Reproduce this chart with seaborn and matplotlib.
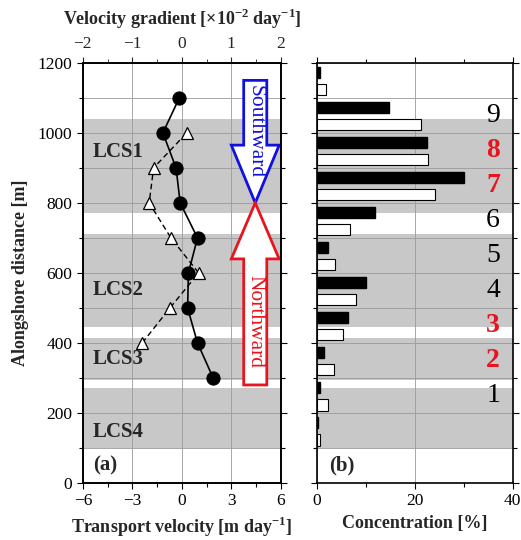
import matplotlib
matplotlib.use('Agg')
import matplotlib.pyplot as plt
import seaborn as sns
from matplotlib.patches import FancyArrow
from matplotlib.ticker import MultipleLocator

# velocidade de transporte (circulos) e gradiente (triangulos)
dist_vel = [1100, 1000, 900, 800, 700, 600, 500, 400, 300]
vel = [-0.15, -1.15, -0.35, -0.1, 0.95, 0.4, 0.35, 0.95, 1.9]
dist_grad = [1000, 900, 800, 700, 600, 500, 400]
grad = [0.1, -0.57, -0.66, -0.22, 0.34, -0.24, -0.8]

# faixas LCS
lcs_nomes = ['LCS1', 'LCS2', 'LCS3', 'LCS4']
lcs_inicio = [770, 445, 295, 100]
lcs_fim = [1040, 710, 415, 270]
lcs_texto_y = [945, 550, 355, 145]

# concentracao por classe de 100 m (limite inferior)
bins = [100, 200, 300, 400, 500, 600, 700, 800, 900, 1000, 1100]
conc_preta = [0.2, 0.7, 1.5, 6.4, 10.0, 2.3, 11.9, 30.1, 22.5, 14.7, 0.7]
conc_branca = [0.6, 2.3, 3.5, 5.4, 8.1, 3.8, 6.8, 24.2, 22.8, 21.3, 1.8]

numeros = ['1', '2', '3', '4', '5', '6', '7', '8', '9']
numeros_y = [250, 350, 450, 550, 650, 750, 850, 950, 1050]
numeros_vermelhos = ['2', '3', '7', '8']

sns.set_style('ticks')
plt.rcParams['font.family'] = ['Liberation Serif', 'DejaVu Serif']
plt.rcParams['mathtext.fontset'] = 'custom'
plt.rcParams['mathtext.rm'] = 'Liberation Serif'
plt.rcParams['mathtext.bf'] = 'Liberation Serif:bold'
plt.rcParams['axes.edgecolor'] = 'black'
plt.rcParams['axes.linewidth'] = 1.2

cinza = '#c8c8c8'
grade = '#9a9a9a'

fig = plt.figure(figsize=(5.21, 5.40), dpi=100)
ax1 = fig.add_axes([0.159, 0.1056, 0.380, 0.778])
ax2 = fig.add_axes([0.608, 0.1056, 0.376, 0.778])

for ax in (ax1, ax2):
    for a, b in zip(lcs_inicio, lcs_fim):
        ax.axhspan(a, b, color=cinza, lw=0, zorder=0.2)
    ax.set_ylim(0, 1200)
    ax.yaxis.set_major_locator(MultipleLocator(200))
    ax.yaxis.set_minor_locator(MultipleLocator(100))
    ax.grid(True, which='both', axis='y', color=grade, lw=0.6, zorder=0.5)
    ax.grid(True, which='major', axis='x', color=grade, lw=0.6, zorder=0.5)
    ax.tick_params(which='both', direction='out', length=4, width=0.8,
                   top=True, right=True, labelsize=12.5, colors='black')
    ax.tick_params(which='minor', length=3)

# painel (a)
sns.lineplot(x=vel, y=dist_vel, orient='y', estimator=None, color='black',
             marker='o', markersize=9.5, markeredgecolor='black', lw=1.2,
             ax=ax1, zorder=5)
ax1.set_xlim(-6, 6)
ax1.xaxis.set_major_locator(MultipleLocator(3))
ax1.xaxis.set_minor_locator(MultipleLocator(1.5))
ax1.tick_params(labeltop=False)
ax1.set_xlabel(r'Transport velocity [m day$^{\mathbf{-1}}$]', fontsize=13,
               fontweight='bold', labelpad=4)
ax1.set_ylabel('Alongshore distance [m]', fontsize=13, fontweight='bold', labelpad=6)

for nome, y in zip(lcs_nomes, lcs_texto_y):
    ax1.text(-5.4, y, nome, fontsize=15, fontweight='bold', va='center', ha='left', zorder=6)
ax1.text(-5.4, 50, '(a)', fontsize=15, fontweight='bold', va='center', ha='left', zorder=6)

seta_sul = FancyArrow(4.45, 1150, 0, -350, width=1.4, head_width=2.9, head_length=165,
                      length_includes_head=True, facecolor='white', edgecolor='#1010e0',
                      lw=2, zorder=4)
seta_norte = FancyArrow(4.45, 280, 0, 520, width=1.4, head_width=2.9, head_length=160,
                        length_includes_head=True, facecolor='white', edgecolor='#e8141e',
                        lw=2, zorder=4)
ax1.add_patch(seta_sul)
ax1.add_patch(seta_norte)
ax1.text(4.45, 1005, 'Southward', rotation=270, color='#1010e0', fontsize=15.5,
         ha='center', va='center', zorder=6)
ax1.text(4.45, 462, 'Northward', rotation=270, color='#e8141e', fontsize=15.5,
         ha='center', va='center', zorder=6)

ax_top = ax1.twiny()
sns.lineplot(x=grad, y=dist_grad, orient='y', estimator=None, color='black',
             marker='^', markersize=8, markerfacecolor='white', markeredgecolor='black',
             markeredgewidth=0.9, lw=1, linestyle=(0, (4, 2.5)), ax=ax_top, zorder=5)
ax_top.set_xlim(-2, 2)
ax_top.set_ylim(0, 1200)
ax_top.xaxis.set_major_locator(MultipleLocator(1))
ax_top.xaxis.set_minor_locator(MultipleLocator(0.5))
ax_top.tick_params(which='both', direction='out', length=4, labelsize=12.5)
ax_top.tick_params(which='minor', length=3)
ax_top.set_ylabel('')
ax_top.set_xlabel(r'Velocity gradient [$\mathbf{\times 10^{-2}}$ day$^{\mathbf{-1}}$]',
                  fontsize=13, fontweight='bold', labelpad=8)

# painel (b)
pos_preta = [b + 73 for b in bins]
pos_branca = [b + 23 for b in bins]
sns.barplot(x=conc_preta, y=pos_preta, orient='y', native_scale=True, width=0.32,
            color='black', edgecolor='black', saturation=1, errorbar=None, ax=ax2,
            zorder=3)
sns.barplot(x=conc_branca, y=pos_branca, orient='y', native_scale=True, width=0.32,
            color='white', edgecolor='black', linewidth=0.8, saturation=1,
            errorbar=None, ax=ax2, zorder=3)
ax2.set_ylim(0, 1200)
ax2.set_xlim(0, 40)
ax2.xaxis.set_major_locator(MultipleLocator(20))
ax2.xaxis.set_minor_locator(MultipleLocator(10))
ax2.yaxis.set_major_locator(MultipleLocator(200))
ax2.yaxis.set_minor_locator(MultipleLocator(100))
ax2.tick_params(labelleft=False)
ax2.set_ylabel('')
ax2.set_xlabel('Concentration [%]', fontsize=13, fontweight='bold', labelpad=4)

for n, y in zip(numeros, numeros_y):
    if n in numeros_vermelhos:
        ax2.text(36, y, n, fontsize=20, fontweight='bold', color='#e8141e',
                 ha='center', va='center', zorder=6)
    else:
        ax2.text(36, y, n, fontsize=20, color='black', ha='center', va='center', zorder=6)
ax2.text(2.5, 50, '(b)', fontsize=15, fontweight='bold', va='center', ha='left', zorder=6)

fig.savefig('out.png', dpi=100)
